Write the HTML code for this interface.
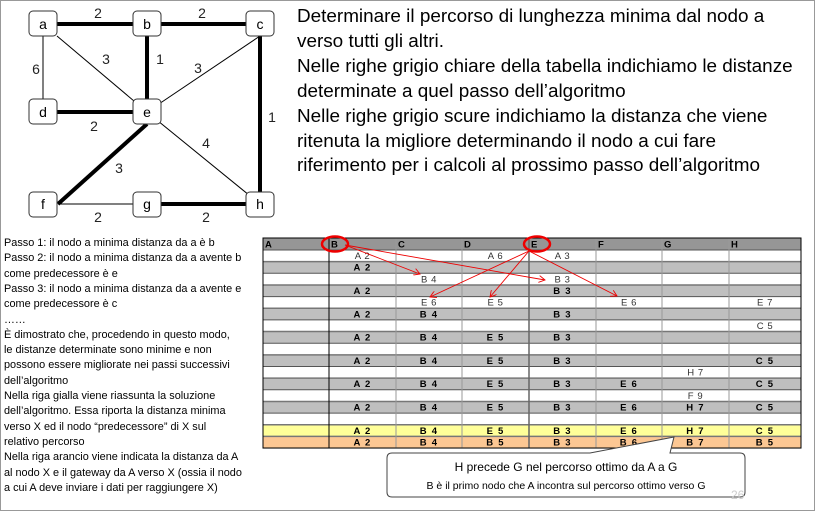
<!DOCTYPE html>
<html><head><meta charset="utf-8"><style>
body{margin:0;width:815px;height:511px;overflow:hidden;background:#fff;font-family:"Liberation Sans",sans-serif}
#frame{position:absolute;left:0;top:0;width:813px;height:509px;border:1px solid #999}
.rt{position:absolute;left:297px;font-size:18.9px;white-space:nowrap;color:#000}
.lt{position:absolute;left:4px;font-size:10.9px;white-space:nowrap;color:#000}
</style></head><body>
<div id="frame"></div>
<svg id="graph" width="290" height="230" style="position:absolute;left:0;top:0" font-family="Liberation Sans" font-size="14">
<g stroke="#000">
<line x1="43" y1="24" x2="147" y2="24" stroke-width="4"/>
<line x1="147" y1="24" x2="260" y2="24" stroke-width="4"/>
<line x1="147" y1="24" x2="147" y2="112" stroke-width="4"/>
<line x1="260" y1="24" x2="260" y2="204" stroke-width="4"/>
<line x1="43" y1="112" x2="147" y2="112" stroke-width="4"/>
<line x1="147" y1="124" x2="58" y2="204" stroke-width="4"/>
<line x1="147" y1="204" x2="260" y2="204" stroke-width="4"/>
<line x1="43" y1="36" x2="43" y2="99" stroke-width="1"/>
<line x1="57" y1="36" x2="147" y2="112" stroke-width="1"/>
<line x1="260" y1="36" x2="147" y2="112" stroke-width="1"/>
<line x1="147" y1="112" x2="260" y2="204" stroke-width="1"/>
<line x1="58" y1="204" x2="147" y2="204" stroke-width="1"/>
</g>
<g fill="#fff" stroke="#333" stroke-width="1">
<rect x="29" y="11" width="28" height="25" rx="4"/><rect x="133" y="11" width="28" height="25" rx="4"/><rect x="246" y="11" width="28" height="25" rx="4"/>
<rect x="29" y="99" width="28" height="25" rx="4"/><rect x="133" y="99" width="28" height="25" rx="4"/>
<rect x="29" y="192" width="28" height="25" rx="4"/><rect x="133" y="192" width="28" height="25" rx="4"/><rect x="246" y="192" width="28" height="25" rx="4"/>
</g>
<g text-anchor="middle" fill="#000">
<text x="43" y="29">a</text><text x="147" y="29">b</text><text x="260" y="29">c</text>
<text x="43" y="117">d</text><text x="147" y="117">e</text>
<text x="43" y="209">f</text><text x="147" y="209">g</text><text x="260" y="209">h</text>
</g>
<g text-anchor="middle" fill="#222">
<text x="98" y="18">2</text><text x="202" y="18">2</text><text x="36" y="74">6</text>
<text x="106" y="64">3</text><text x="160" y="64">1</text><text x="198" y="73">3</text>
<text x="272" y="122">1</text><text x="94" y="131">2</text><text x="206" y="148">4</text>
<text x="119" y="173">3</text><text x="98" y="222">2</text><text x="206" y="222">2</text>
</g>
</svg>
<div class="rt" style="top:6px">Determinare il percorso di lunghezza minima dal nodo a</div>
<div class="rt" style="top:31px">verso tutti gli altri.</div>
<div class="rt" style="top:56px">Nelle righe grigio chiare della tabella indichiamo le distanze</div>
<div class="rt" style="top:81px">determinate a quel passo dell’algoritmo</div>
<div class="rt" style="top:106px">Nelle righe grigio scure indichiamo la distanza che viene</div>
<div class="rt" style="top:131px">ritenuta la migliore determinando il nodo a cui fare</div>
<div class="rt" style="top:155px">riferimento per i calcoli al prossimo passo dell’algoritmo</div>
<div id="left"></div>
<svg id="tbl" width="815" height="511" style="position:absolute;left:0;top:0" font-family="Liberation Sans"></svg>
<script>
const headers=["A","B","C","D","E","F","G","H"];
const rowKinds=["w","g","w","g","w","g","w","g","w","g","w","g","w","g","w","y","o"];
const rowCells=[
["","A 2","","A 6","A 3","","",""],
["","A 2","","","","","",""],
["","","B 4","","B 3","","",""],
["","A 2","","","B 3","","",""],
["","","E 6","E 5","","E 6","","E 7"],
["","A 2","B 4","","B 3","","",""],
["","","","","","","","C 5"],
["","A 2","B 4","E 5","B 3","","",""],
["","","","","","","",""],
["","A 2","B 4","E 5","B 3","","","C 5"],
["","","","","","","H 7",""],
["","A 2","B 4","E 5","B 3","E 6","","C 5"],
["","","","","","","F 9",""],
["","A 2","B 4","E 5","B 3","E 6","H 7","C 5"],
["","","","","","","",""],
["","A 2","B 4","E 5","B 3","E 6","H 7","C 5"],
["","A 2","B 4","B 5","B 3","B 6","B 7","B 5"]];
const leftLines=["Passo 1: il nodo a minima distanza da a è b","Passo 2: il nodo a minima distanza da a avente b","come predecessore è e","Passo 3: il nodo a minima distanza da a avente e","come predecessore è c","……","È dimostrato che, procedendo in questo modo,","le distanze determinate sono minime e non","possono essere migliorate nei passi successivi","dell’algoritmo","Nella riga gialla viene riassunta la soluzione","dell’algoritmo. Essa riporta la distanza minima","verso X ed il nodo “predecessore” di X sul","relativo percorso","Nella riga arancio viene indicata la distanza da A","al nodo X e il gateway da A verso X (ossia il nodo","a cui A deve inviare i dati per raggiungere X)"];
const L=document.getElementById('left');
leftLines.forEach((t,i)=>{const d=document.createElement('div');d.className='lt';d.style.top=(237+i*15.3)+'px';d.textContent=t;


L.appendChild(d);});
const NS="http://www.w3.org/2000/svg",S=document.getElementById('tbl');
function mk(tag,a,p){const e=document.createElementNS(NS,tag);for(const k in a)e.setAttribute(k,a[k]);(p||S).appendChild(e);return e;}
const colX=[263,329,396,462,529,596,662,729,801];
const top0=238,hH=12,rH=11.65;
const fills={w:"#fff",g:"#bfbfbf",y:"#ffff99",o:"#fcc793"};
let hr=mk('rect',{x:263,y:top0,width:538,height:hH,fill:"#969696"});


headers.forEach((h,i)=>{const t=mk('text',{x:colX[i]+2,y:top0+9.5,'font-size':9.5,'font-weight':'bold'});t.textContent=h;

});
rowKinds.forEach((k,r)=>{const y=top0+hH+r*rH;
const rc=mk('rect',{x:263,y:y,width:538,height:rH,fill:fills[k]});


mk('line',{x1:263,x2:801,y1:y,y2:y,stroke:k=='w'?"#555":"#777","stroke-width":k=='w'?1:1.5});
rowCells[r].forEach((v,c)=>{if(!v)return;const bold=k!='w';
const t=mk('text',{x:(colX[c]+colX[c+1])/2,y:y+9,'text-anchor':'middle','font-size':9.5,'font-weight':bold?'bold':'normal',fill:bold?"#000":"#333",'letter-spacing':bold?1.2:0.6});t.textContent=v;

});});
const bottom=top0+hH+rowKinds.length*rH;
mk('line',{x1:263,x2:801,y1:bottom,y2:bottom,stroke:"#000"});
colX.forEach((x,i)=>mk('line',{x1:x,x2:x,y1:top0,y2:bottom,stroke:(i==0||i==1||i==8)?"#000":(i==4?"#666":"#999"),"stroke-width":i==4?1.5:1}));
mk('rect',{x:263,y:top0,width:538,height:bottom-top0,fill:"none",stroke:"#000"});
const defs=mk('defs',{});const m=mk('marker',{id:'ah',markerWidth:8,markerHeight:8,refX:7,refY:4,orient:'auto'},defs);mk('path',{d:'M0,0 L7,4 L0,8',fill:'none',stroke:'#e00','stroke-width':1},m);
[[345,245,420,274],[345,245,545,280],[529,251,430,297],[529,251,490,297],[529,251,617,296]].forEach(a=>{
const l=mk('line',{x1:a[0],y1:a[1],x2:a[2],y2:a[3],stroke:'#e00','stroke-width':0.9,'marker-end':'url(#ah)'});

});
let c1=mk('ellipse',{cx:335,cy:244,rx:13,ry:7.5,fill:'none',stroke:'#e00','stroke-width':2.5});


let c2=mk('ellipse',{cx:537,cy:244,rx:13,ry:7.5,fill:'none',stroke:'#e00','stroke-width':2.5});


const co=mk('path',{d:'M392,453 L590,453 L674,437 L670,453 L740,453 Q745,453 745,458 L745,492 Q745,497 740,497 L392,497 Q387,497 387,492 L387,458 Q387,453 392,453 Z',fill:'#fff',stroke:'#444','stroke-width':1});


let t1=mk('text',{x:566,y:471,'text-anchor':'middle','font-size':12});t1.textContent="H precede G nel percorso ottimo da A a G";


let t2=mk('text',{x:566,y:489,'text-anchor':'middle','font-size':10.5});t2.textContent="B è il primo nodo che A incontra sul percorso ottimo verso G";


let pn=mk('text',{x:731,y:499,'font-size':12,fill:'#ccc'});pn.textContent="26";


</script>
</body></html>
